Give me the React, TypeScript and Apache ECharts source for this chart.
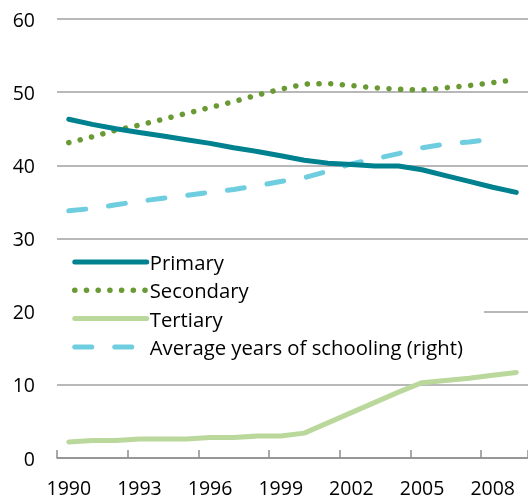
import React, { useEffect, useRef } from "react";
import * as echarts from "echarts";

const years = ["1990","1991","1992","1993","1994","1995","1996","1997","1998","1999","2000","2001","2002","2003","2004","2005","2006","2007","2008","2009"];
const primary = [46.3,45.6,45.0,44.5,44.0,43.5,43.0,42.4,41.9,41.3,40.7,40.3,40.1,39.9,39.9,39.4,38.6,37.8,37.0,36.3];
const secondary = [43.1,43.9,44.8,45.5,46.3,47.1,47.9,48.7,49.6,50.4,51.1,51.2,50.9,50.6,50.4,50.3,50.6,50.9,51.3,51.7];
const tertiary = [2.2,2.4,2.4,2.6,2.6,2.6,2.8,2.8,3.0,3.0,3.4,4.8,6.2,7.6,9.0,10.3,10.6,10.9,11.3,11.7];
const avgSchooling = [33.8,34.1,34.6,35.1,35.5,35.9,36.3,36.7,37.2,37.8,38.3,39.2,40.2,40.9,41.6,42.4,42.9,43.2,43.6,null];

const FONT = "Open Sans";
const FS = 19.5;
const LEGEND_FS = 20.3;

export default function App() {
  const ref = useRef<HTMLDivElement>(null);
  useEffect(() => {
    if (!ref.current) return;
    const chart = echarts.init(ref.current, undefined, { renderer: "svg" });
    const mk = (name: string, data: (number | null)[], color: string, type: any, width: number, z: number) => ({
      name,
      type: "line",
      data,
      symbol: "none",
      showSymbol: false,
      z,
      lineStyle: { color, width, type, cap: "round", join: "round" },
      itemStyle: { color },
    });
    chart.setOption({
      animation: false,
      grid: { left: 57, top: 19, width: 473, bottom: 41, containLabel: false },
      xAxis: {
        type: "category",
        data: years,
        boundaryGap: true,
        axisLine: { lineStyle: { color: "#8c8c8c", width: 1.5 } },
        axisTick: { show: true, inside: true, length: 8, interval: 2, lineStyle: { color: "#8c8c8c", width: 1.5 } },
        axisLabel: { interval: 2, color: "#000", fontFamily: FONT, fontSize: FS, margin: 19 },
        splitLine: { show: false },
      },
      yAxis: {
        type: "value",
        min: 0,
        max: 60,
        interval: 10,
        axisLine: { show: false },
        axisTick: { show: false },
        axisLabel: { color: "#000", fontFamily: FONT, fontSize: FS, margin: 22 },
        splitLine: { lineStyle: { color: "#a0a0a0", width: 1.5 } },
      },
      legend: {
        orient: "vertical",
        left: 57,
        top: 246,
        padding: [6, 21, 4, 15],
        backgroundColor: "#ffffff",
        itemWidth: 72,
        itemHeight: 14,
        itemGap: 8.3,
        itemStyle: { color: "transparent", opacity: 0, borderWidth: 0 },
        lineStyle: { width: "inherit", cap: "round" },
        textStyle: { color: "#000", fontFamily: FONT, fontSize: LEGEND_FS, lineHeight: 20, padding: [0, 0, 0, -2] },
        data: ["Primary", "Secondary", "Tertiary", "Average years of schooling (right)"],
      },
      series: [
        mk("Primary", primary, "#00818f", "solid", 5, 4),
        mk("Secondary", secondary, "#6a9a33", [0.1, 11.6], 5.5, 3),
        mk("Tertiary", tertiary, "#bad89b", "solid", 5, 2),
        mk("Average years of schooling (right)", avgSchooling, "#6fcde0", [17, 23], 5, 1),
      ],
    });
    return () => chart.dispose();
  }, []);
  return <div ref={ref} style={{ position: "fixed", left: 0, top: 0, width: 528, height: 499 }} />;
}
